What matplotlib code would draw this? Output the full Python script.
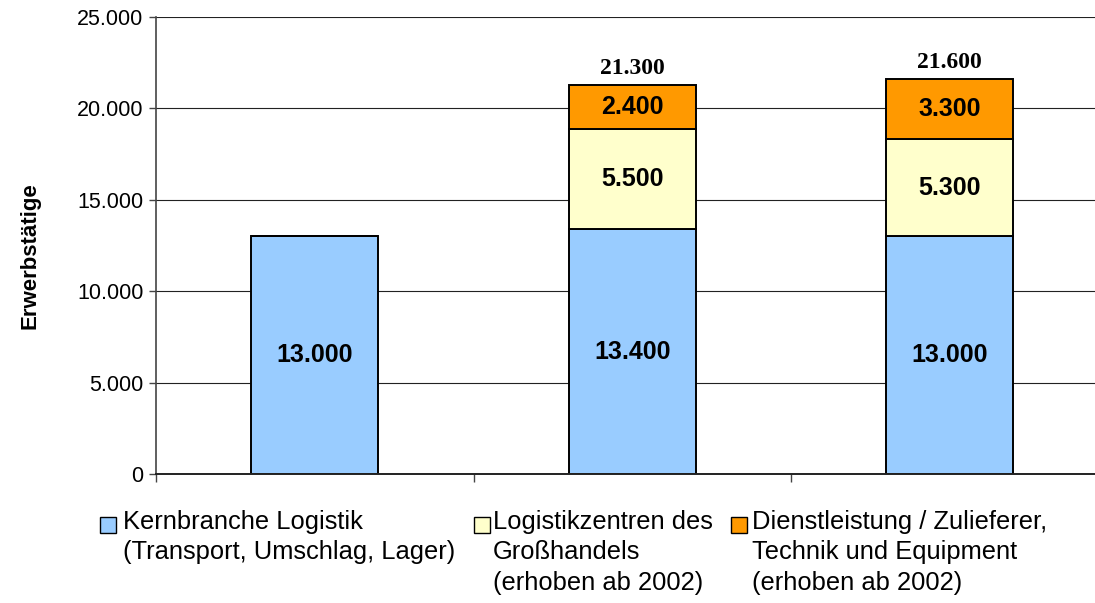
import numpy as np
import matplotlib.pyplot as plt
from matplotlib.patches import Rectangle
from matplotlib.ticker import FuncFormatter

plt.rcParams['font.family'] = ['Liberation Sans', 'DejaVu Sans']

# Erwerbstätige je Bereich (drei Erhebungen)
kernbranche = [13000, 13400, 13000]
logistikzentren = [0, 5500, 5300]
dienstleistung = [0, 2400, 3300]

legend_labels = [
    'Kernbranche Logistik\n(Transport, Umschlag, Lager)',
    'Logistikzentren des\nGroßhandels\n(erhoben ab 2002)',
    'Dienstleistung / Zulieferer,\nTechnik und Equipment\n(erhoben ab 2002)',
]
colors = ['#99CCFF', '#FFFFCC', '#FF9900']


def de_format(v, pos=None):
    return f'{v:,.0f}'.replace(',', '.')


W, H = 1095, 603
fig = plt.figure(figsize=(W / 100, H / 100), dpi=100)
ax = fig.add_axes([156 / W, 1 - 474 / H, 1 - 156 / W, (474 - 17) / H])

x = np.arange(len(kernbranche))
width = 0.40
series = [kernbranche, logistikzentren, dienstleistung]
bottom = np.zeros(len(x))
for vals, col in zip(series, colors):
    bars = ax.bar(x, vals, width, bottom=bottom, color=col,
                  edgecolor='black', linewidth=1.4, zorder=3)
    labels = [de_format(v) if v > 0 else '' for v in vals]
    ax.bar_label(bars, labels=labels, label_type='center',
                 fontsize=18, fontweight='bold', zorder=4)
    bottom = bottom + np.array(vals)

# Summe über gestapelten Balken
for xi, tot, extra in zip(x, bottom, np.array(logistikzentren) + np.array(dienstleistung)):
    if extra > 0:
        ax.annotate(de_format(tot), (xi, tot), xytext=(0, 8),
                    textcoords='offset points', ha='center', va='baseline',
                    fontsize=17, fontweight='bold', family='Liberation Serif')

ax.set_ylim(0, 25000)
ax.set_yticks(np.arange(0, 25001, 5000))
ax.yaxis.set_major_formatter(FuncFormatter(de_format))
ax.set_xlim(-0.5, -0.5 + (W - 156) / 317.5)
ax.set_xticks([-0.5, 0.5, 1.5])
ax.set_xticklabels([])

ax.grid(axis='y', color='#222222', linewidth=0.8, zorder=0)
ax.tick_params(axis='y', labelsize=15.5, length=5, width=1, color='#444444', pad=4)
ax.tick_params(axis='x', length=6, width=1, color='#444444')
for s in ['top', 'right']:
    ax.spines[s].set_visible(False)
ax.spines['left'].set_color('#444444')
ax.spines['left'].set_linewidth(1.2)
ax.spines['bottom'].set_color('#222222')
ax.spines['bottom'].set_linewidth(1.4)
ax.spines['bottom'].set_zorder(5)

ax.set_ylabel('Erwerbstätige', fontsize=16, fontweight='bold')
ax.yaxis.set_label_coords((40 - 156) / (W - 156), 0.477)

# Legende unter dem Diagramm
patch_x = [100, 474, 731]
text_x = [123, 493, 752]
for px, tx, lab, col in zip(patch_x, text_x, legend_labels, colors):
    fig.patches.append(Rectangle((px / W, 1 - 533 / H), 16 / W, 16 / H,
                                 transform=fig.transFigure, facecolor=col,
                                 edgecolor='black', linewidth=1.0))
    fig.text(tx / W, 1 - 510 / H, lab, fontsize=18.4, va='top', ha='left',
             linespacing=1.33)

fig.savefig('out.png', dpi=100)
